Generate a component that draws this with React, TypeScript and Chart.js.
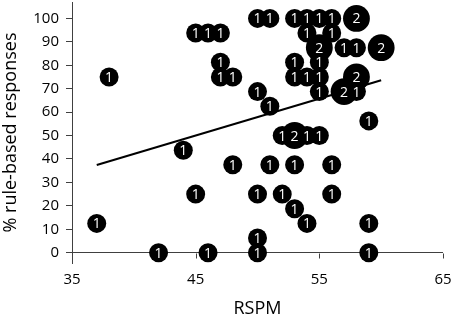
import React, { useEffect, useRef } from "react";
import { Chart, registerables } from "chart.js";

Chart.register(...registerables);

// RSPM score of each bubble
const rspm = [
  38, 45, 46, 47, 47, 47, 48, 50, 51, 53, 54, 55, 56, 58, 54, 56, 55, 57, 58, 60,
  53, 55, 53, 54, 55, 58, 50, 55, 57, 58, 51, 59, 52, 53, 54, 55, 44, 48, 51, 53,
  56, 45, 50, 52, 56, 53, 37, 54, 59, 50, 42, 46, 50, 59,
];
// % rule-based responses of each bubble
const ruleBased = [
  75, 93.75, 93.75, 93.75, 81.25, 75, 75, 100, 100, 100, 100, 100, 100, 100, 93.75, 93.75,
  87.5, 87.5, 87.5, 87.5, 81.25, 81.25, 75, 75, 75, 75, 68.75, 68.75, 68.75, 68.75, 62.5,
  56.25, 50, 50, 50, 50, 43.75, 37.5, 37.5, 37.5, 37.5, 25, 25, 25, 25, 18.75, 12.5, 12.5,
  12.5, 6.25, 0, 0, 0, 0,
];
// number of participants in each bubble
const counts = [
  1, 1, 1, 1, 1, 1, 1, 1, 1, 1, 1, 1, 1, 2, 1, 1, 2, 1, 1, 2,
  1, 1, 1, 1, 1, 2, 1, 1, 2, 1, 1, 1, 1, 2, 1, 1, 1, 1, 1, 1,
  1, 1, 1, 1, 1, 1, 1, 1, 1, 1, 1, 1, 1, 1,
];
// linear trend line end points
const trendX = [37, 60];
const trendY = [37.4, 73.6];

const xTicks = [35, 45, 55, 65];
const yTicks = [0, 10, 20, 30, 40, 50, 60, 70, 80, 90, 100];

const AXIS = "#404040";
const FONT = "'Open Sans', 'Noto Sans', sans-serif";

// plot-area frame in canvas pixels
const AREA = { left: 72, top: 2, right: 443, bottom: 263, canvasH: 316 };

const fixedArea = {
  id: "fixedArea",
  afterLayout(chart: any) {
    const { left, top, right, bottom, canvasH } = AREA;
    const ca = chart.chartArea;
    ca.left = left;
    ca.top = top;
    ca.right = right;
    ca.bottom = bottom;
    ca.width = right - left;
    ca.height = bottom - top;
    const { x, y } = chart.scales;
    y.left = 0;
    y.right = left;
    y.top = top;
    y.bottom = bottom;
    y.width = left;
    y.height = bottom - top;
    x.left = left;
    x.right = right;
    x.top = bottom;
    x.bottom = canvasH;
    x.width = right - left;
    x.height = canvasH - bottom;
    x.configure();
    y.configure();
  },
};

const bubbleLabels = {
  id: "bubbleLabels",
  afterDatasetsDraw(chart: any) {
    const meta = chart.getDatasetMeta(0);
    const ctx = chart.ctx;
    ctx.save();
    ctx.fillStyle = "#ffffff";
    ctx.font = `14px ${FONT}`;
    ctx.textAlign = "center";
    ctx.textBaseline = "middle";
    meta.data.forEach((el: any, i: number) => {
      ctx.fillText(String(counts[i]), el.x, el.y + 1);
    });
    ctx.restore();
  },
};

const xAxisTickMarks = {
  id: "xAxisTickMarks",
  beforeDatasetsDraw(chart: any) {
    const { x, y } = chart.scales;
    const y0 = Math.round(y.getPixelForValue(0)) + 0.5;
    const ctx = chart.ctx;
    ctx.save();
    ctx.strokeStyle = AXIS;
    ctx.lineWidth = 1;
    ctx.beginPath();
    xTicks.forEach((v) => {
      const px = Math.round(x.getPixelForValue(v)) + 0.5;
      ctx.moveTo(px, y0);
      ctx.lineTo(px, y0 + 5);
    });
    ctx.stroke();
    ctx.restore();
  },
};

export default function App() {
  const ref = useRef<HTMLCanvasElement | null>(null);

  useEffect(() => {
    if (!ref.current) return;
    const chart = new Chart(ref.current, {
      type: "bubble",
      data: {
        datasets: [
          {
            type: "bubble",
            data: rspm.map((xv, i) => ({ x: xv, y: ruleBased[i], r: 9.5 * Math.sqrt(counts[i]) })),
            backgroundColor: "#000000",
            borderColor: "#000000",
            borderWidth: 0,
            order: 2,
          } as any,
          {
            type: "line",
            data: trendX.map((xv, i) => ({ x: xv, y: trendY[i] })),
            borderColor: "#000000",
            borderWidth: 2,
            pointRadius: 0,
            fill: false,
            order: 1,
          } as any,
        ],
      },
      options: {
        responsive: false,
        animation: false,
        layout: { padding: { top: 2, right: 11, left: 0, bottom: 0 } },
        plugins: {
          legend: { display: false },
          tooltip: { enabled: false },
        },
        scales: {
          x: {
            type: "linear",
            position: "bottom",
            min: 35,
            max: 65,
            ticks: {
              stepSize: 10,
              color: "#000",
              font: { family: FONT, size: 15 },
              padding: 8,
            },
            grid: { display: false, drawTicks: false },
            border: { display: false },
            title: {
              display: true,
              text: "RSPM",
              color: "#000",
              font: { family: FONT, size: 18, lineHeight: 1 },
              padding: { top: 0, bottom: -2 },
            },
          },
          y: {
            type: "linear",
            min: -4.4,
            max: 107,
            afterBuildTicks: (s: any) => {
              s.ticks = yTicks.map((v) => ({ value: v }));
            },
            ticks: {
              color: "#000",
              font: { family: FONT, size: 15 },
              padding: 7,
            },
            grid: {
              color: (c: any) => (c.tick && c.tick.value === 0 ? AXIS : "rgba(0,0,0,0)"),
              tickColor: AXIS,
              tickLength: 6,
              lineWidth: 1,
            },
            border: { display: true, color: AXIS, width: 1 },
            title: {
              display: true,
              text: "% rule-based responses",
              color: "#000",
              font: { family: FONT, size: 18, lineHeight: 1 },
              padding: { top: 2, bottom: 0 },
            },
          },
        },
      },
      plugins: [fixedArea, xAxisTickMarks, bubbleLabels],
    });
    return () => chart.destroy();
  }, []);

  return (
    <div style={{ position: "fixed", left: 0, top: 0, width: 454, height: 316, background: "#fff" }}>
      <canvas ref={ref} width={454} height={316} style={{ display: "block" }} />
    </div>
  );
}
